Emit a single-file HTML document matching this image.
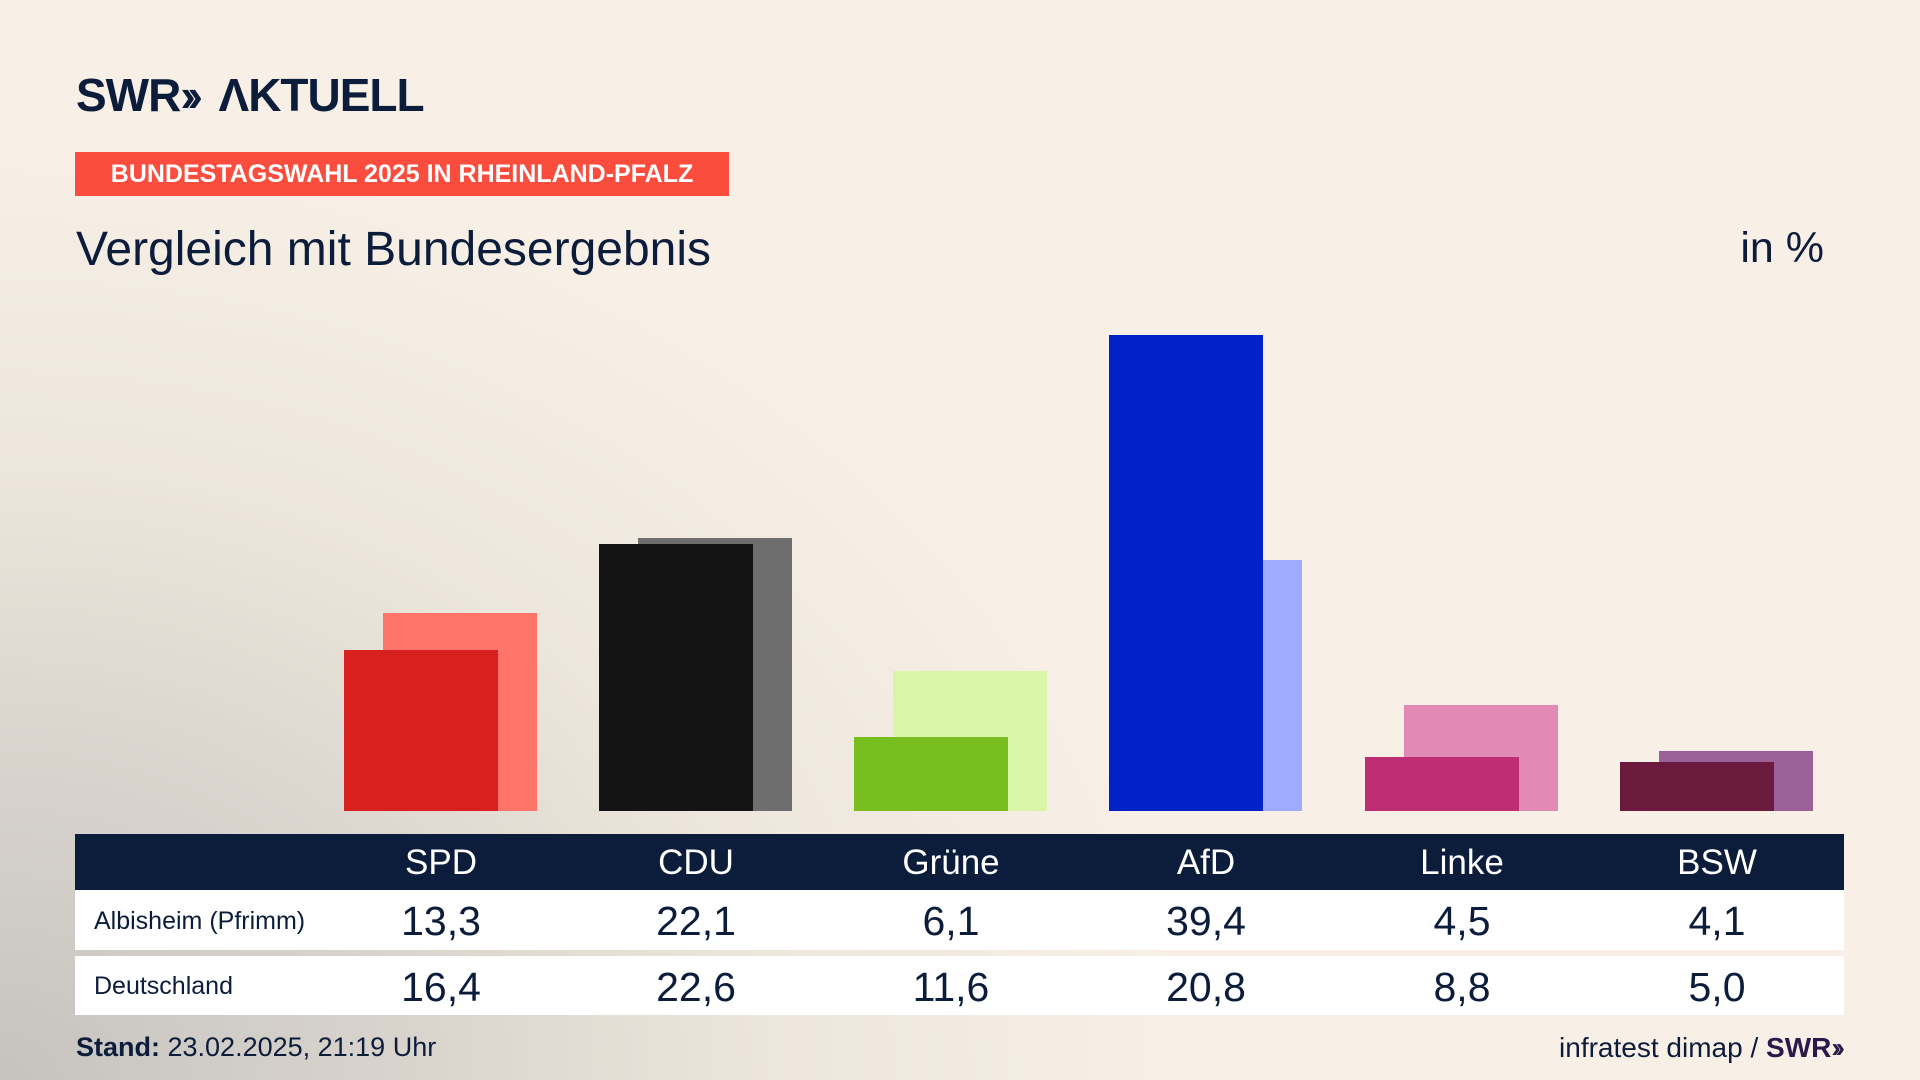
<!DOCTYPE html>
<html><head><meta charset="utf-8"><style>
body{margin:0;width:1920px;height:1080px;overflow:hidden;position:relative;font-family:"Liberation Sans",sans-serif;color:#0c1d3c;
background:radial-gradient(ellipse 1200px 950px at 0% 100%, #c6c3bf 0%, #d9d4cd 35%, #ede6dc 65%, #f8f0e6 100%),#f8f0e6;}
.abs{position:absolute}
.bar{position:absolute;width:154px}
.cell{position:absolute;width:200px;text-align:center}
</style></head><body>
<div class="abs" style="left:76px;top:68px;font-size:46px;font-weight:bold;letter-spacing:-1px;color:#0c1d3c">SWR<span style="letter-spacing:-8px">››</span>&nbsp; ΛKTUELL</div>
<div class="abs" style="left:75px;top:152px;width:654px;height:44px;background:#fa4d3d;color:#fff;font-weight:bold;font-size:25px;line-height:44px;text-align:center">BUNDESTAGSWAHL 2025 IN RHEINLAND-PFALZ</div>
<div class="abs" style="left:76px;top:222px;font-size:48px">Vergleich mit Bundesergebnis</div>
<div class="abs" style="right:96px;top:224px;font-size:43px">in %</div>

<div class="bar" style="left:383px;top:613px;height:198px;background:#ff7468"></div>
<div class="bar" style="left:344px;top:650px;height:161px;background:#d8201f"></div>
<div class="bar" style="left:638px;top:538px;height:273px;background:#6e6e6e"></div>
<div class="bar" style="left:599px;top:544px;height:267px;background:#141414"></div>
<div class="bar" style="left:893px;top:671px;height:140px;background:#d8f5a8"></div>
<div class="bar" style="left:854px;top:737px;height:74px;background:#78be1e"></div>
<div class="bar" style="left:1148px;top:560px;height:251px;background:#9fabff"></div>
<div class="bar" style="left:1109px;top:335px;height:476px;background:#0022c8"></div>
<div class="bar" style="left:1404px;top:705px;height:106px;background:#e08ab5"></div>
<div class="bar" style="left:1365px;top:757px;height:54px;background:#bd2e74"></div>
<div class="bar" style="left:1659px;top:751px;height:60px;background:#9c6198"></div>
<div class="bar" style="left:1620px;top:762px;height:49px;background:#6b1a3e"></div>

<div class="abs" style="left:75px;top:834px;width:1769px;height:56px;background:#0c1d3c"></div>
<div class="abs" style="left:75px;top:890px;width:1769px;height:60px;background:#fff"></div>
<div class="abs" style="left:75px;top:956px;width:1769px;height:59px;background:#fff"></div>

<div style="color:#fff;font-size:35px">
<div class="cell" style="left:341px;top:843px">SPD</div>
<div class="cell" style="left:596px;top:843px">CDU</div>
<div class="cell" style="left:851px;top:843px">Grüne</div>
<div class="cell" style="left:1106px;top:843px">AfD</div>
<div class="cell" style="left:1362px;top:843px">Linke</div>
<div class="cell" style="left:1617px;top:843px">BSW</div>
</div>
<div class="abs" style="left:94px;top:907px;font-size:25px">Albisheim (Pfrimm)</div>
<div class="abs" style="left:94px;top:972px;font-size:25px">Deutschland</div>
<div style="font-size:41px">
<div class="cell" style="left:341px;top:898px">13,3</div>
<div class="cell" style="left:596px;top:898px">22,1</div>
<div class="cell" style="left:851px;top:898px">6,1</div>
<div class="cell" style="left:1106px;top:898px">39,4</div>
<div class="cell" style="left:1362px;top:898px">4,5</div>
<div class="cell" style="left:1617px;top:898px">4,1</div>
<div class="cell" style="left:341px;top:964px">16,4</div>
<div class="cell" style="left:596px;top:964px">22,6</div>
<div class="cell" style="left:851px;top:964px">11,6</div>
<div class="cell" style="left:1106px;top:964px">20,8</div>
<div class="cell" style="left:1362px;top:964px">8,8</div>
<div class="cell" style="left:1617px;top:964px">5,0</div>
</div>
<div class="abs" style="left:76px;top:1032px;font-size:27px"><b>Stand:</b> 23.02.2025, 21:19 Uhr</div>
<div class="abs" style="right:80px;top:1032px;font-size:28px">infratest dimap / <b style="color:#2a1a4a">SWR<span style="letter-spacing:-5px">››</span></b></div>
</body></html>
